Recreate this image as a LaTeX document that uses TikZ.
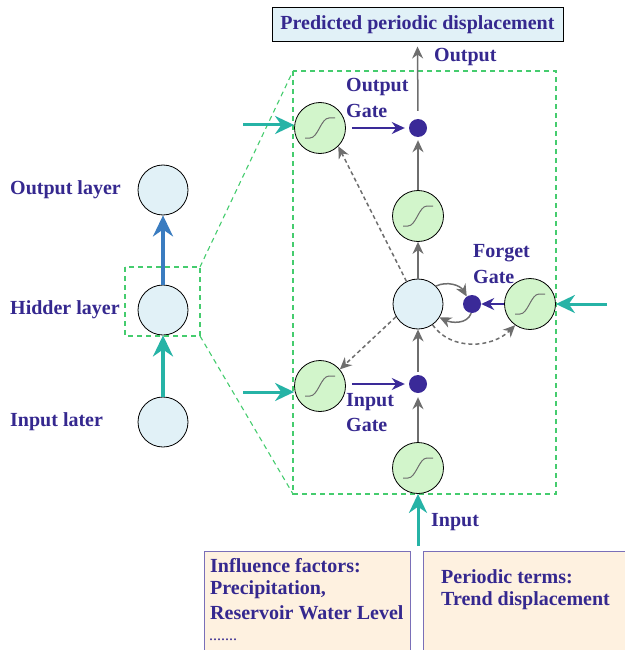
\documentclass[tikz,border=0pt]{standalone}
\usepackage{fontspec}
\setmainfont{Liberation Serif}
\usetikzlibrary{arrows.meta}
\definecolor{ink}{HTML}{35288F}
\definecolor{dotc}{HTML}{3A2A98}
\definecolor{cellfill}{HTML}{E1F1F7}
\definecolor{gatefill}{HTML}{D2F5CB}
\definecolor{tealc}{HTML}{26B3A6}
\definecolor{bluec}{HTML}{3A7CC0}
\definecolor{greyc}{HTML}{6E6E6E}
\definecolor{zoomc}{HTML}{45CC6E}
\definecolor{notefill}{HTML}{FEF1E0}
\definecolor{noteline}{HTML}{7A6FB8}
\tikzset{
  cellnode/.style={circle, draw=black, fill=cellfill, minimum size=50pt, inner sep=0pt, line width=0.8pt},
  gatenode/.style={circle, draw=black, fill=gatefill, minimum size=51pt, inner sep=0pt, line width=0.8pt},
  dotnode/.style={circle, fill=dotc, minimum size=18pt, inner sep=0pt},
  lbl/.style={text=ink, font=\bfseries\fontsize{20}{24}\selectfont, anchor=west, inner sep=0pt, align=left},
  greyarr/.style={draw=greyc, line width=1.5pt, -{Stealth[length=12pt,width=11pt]}},
  greydash/.style={greyarr, dash pattern=on 4pt off 3pt},
  inkarr/.style={draw=dotc, line width=1.8pt, -{Stealth[length=13pt,width=12pt]}},
  tealarr/.style={draw=tealc, line width=3pt, -{Stealth[length=19pt,width=18pt]}},
  bigarr/.style={line width=3.2pt, -{Stealth[length=21pt,width=20pt]}},
  zoomline/.style={draw=zoomc, line width=1.1pt, dash pattern=on 5pt off 4pt},
  notebox/.style={draw=noteline, fill=notefill, line width=1pt},
  sig/.pic={\draw[greyc, line width=1pt] (-15,-10) -- (-10,-10) .. controls (-2,-10) and (1,10) .. (9,10) -- (15,10);}
}
\begin{document}
\begin{tikzpicture}[x=1pt,y=1pt]
\useasboundingbox (0,0) rectangle (624,-650);

% ---- layered network on the left ----
\node[cellnode] (outl) at (163,-190) {};
\node[cellnode] (hidl) at (163,-310) {};
\node[cellnode] (inl)  at (163,-422) {};
\node[lbl] (outlt) at (10,-190) {Output layer};
\node[lbl] (hidlt) at (10,-310) {Hidder layer};
\node[lbl] (inlt)  at (10,-422) {Input later};
\draw[bigarr, tealc] (inl) -- (hidl);
\draw[bigarr, bluec] (hidl) -- (outl);

% ---- zoom frame ----
\coordinate (zs1) at (125,-267);
\coordinate (zs2) at (200,-336);
\coordinate (zb1) at (293,-71);
\coordinate (zb2) at (556,-494);
\draw[zoomline] (zs1) rectangle (zs2);
\draw[zoomline] (zb1) rectangle (zb2);
\draw[zoomline] (zs2 |- zs1) -- (zb1);
\draw[zoomline] (zs2) -- (zb1 |- zb2);

% ---- LSTM cell ----
\node[draw=black, fill=cellfill, line width=1pt, minimum width=291pt, minimum height=34pt,
      text=ink, font=\bfseries\fontsize{20}{24}\selectfont] (pred) at (417.5,-25) {Predicted periodic displacement};

\node[cellnode] (cell) at (418,-304) {};
\node[gatenode] (gout) at (320,-128) {};
\node[gatenode] (gup)  at (418,-216) {};
\node[gatenode] (gin)  at (320,-386) {};
\node[gatenode] (gfor) at (530,-304) {};
\node[gatenode] (gbot) at (418,-468) {};
\foreach \g in {gout,gup,gin,gfor,gbot} \path (\g) pic {sig};

\node[dotnode] (dout) at (418,-128) {};
\node[dotnode] (din)  at (418,-384) {};
\node[dotnode] (dfor) at (472,-304) {};

% external inputs
\coordinate (tin1) at (243,-125);
\coordinate (tin2) at (243,-392);
\coordinate (tin3) at (607,-304);
\coordinate (tin4) at (418,-546);
\draw[tealarr] (tin1) -- (gout.west |- tin1);
\draw[tealarr] (tin2) -- (gin.west |- tin2);
\draw[tealarr] (tin3) -- (gfor.east);
\draw[tealarr] (tin4) -- (gbot.south);

% gate signals
\draw[inkarr] (gout.east) ++(6,0) -- ([xshift=-4pt]dout.west);
\draw[inkarr] ([xshift=6pt]gin.east |- din) -- ([xshift=-4pt]din.west);
\draw[inkarr] (gfor.west) -- (dfor.east);

% main flow
\draw[greyarr, shorten >=4pt] (gbot.north) -- (din.south);
\draw[greyarr, shorten <=3pt] (din.north) -- (cell.south);
\draw[greyarr] (cell.north) -- (gup.south);
\draw[greyarr, shorten >=3pt] (gup.north) -- (dout.south);
\draw[greyarr, shorten <=8pt, shorten >=4pt] (dout.north) -- (pred.south);

% cell state loop through the forget gate
\draw[greyarr] (cell.45) to[out=25, in=120] (dfor.125);
\draw[greyarr] (dfor.-95) to[out=-110, in=-25] (cell.-32);

% peephole connections
\draw[greydash] (cell.117) -- (gout.-45);
\draw[greydash] (cell.-150) -- (gin.40);
\draw[greydash] (cell.-55) to[out=-55, in=-135] (gfor.-125);

% labels
\node[lbl] (lout) at (434,-57) {Output};
\node[lbl] (log1) at (346,-87) {Output};
\node[lbl] (log2) at (346,-111) {Gate};
\node[lbl] (lfg1) at (473,-253) {Forget};
\node[lbl] (lfg2) at (473,-277) {Gate};
\node[lbl] (lig1) at (346,-402) {Input};
\node[lbl] (lig2) at (346,-425) {Gate};
\node[lbl] (linp) at (431,-522) {Input};

% ---- input notes ----
\draw[notebox] (204,-551) rectangle (410,-660);
\draw[notebox] (423,-551) rectangle (630,-660);
\node[lbl] (n1) at (210,-566) {Influence factors:};
\node[lbl] (n2) at (210,-590) {Precipitation,};
\node[lbl] (n3) at (210,-613) {Reservoir Water Level};
\node[text=ink, font=\fontsize{16}{18}\selectfont, anchor=west, inner sep=0pt] (n4) at (209,-640) {.......};
\node[lbl] (p1) at (441,-577) {Periodic terms:};
\node[lbl] (p2) at (441,-601) {Trend displacement};
\end{tikzpicture}
\end{document}
